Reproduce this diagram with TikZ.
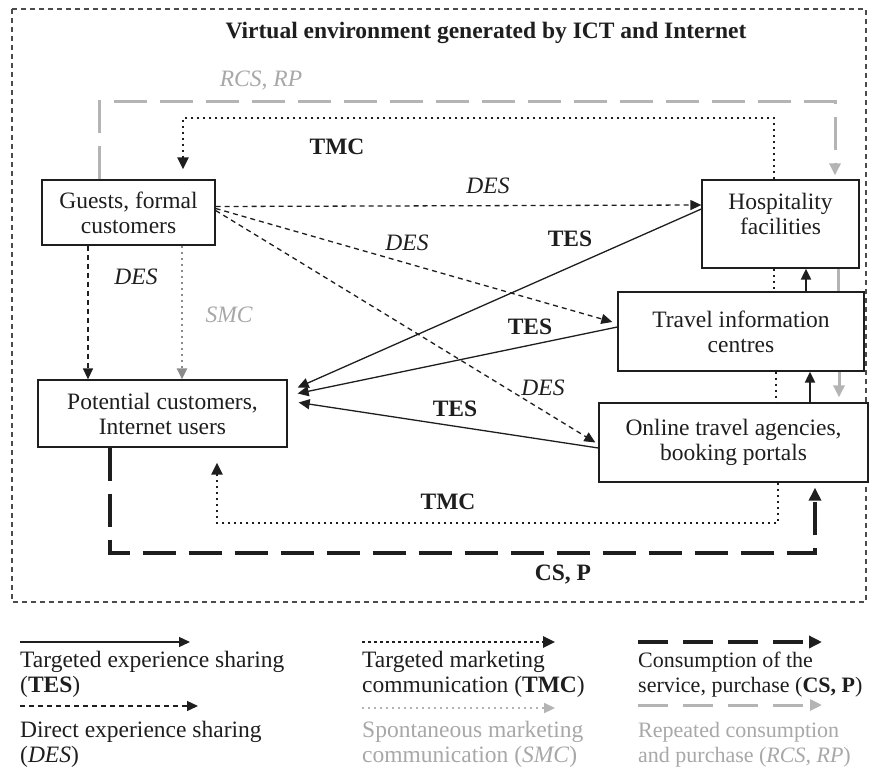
\documentclass[tikz,border=0pt]{standalone}
\usepackage{fontspec}
\setmainfont{Liberation Serif}
\usetikzlibrary{arrows.meta,calc}
\definecolor{lgray}{HTML}{B4B4B4}
\definecolor{mgray}{HTML}{8C8C8C}
\definecolor{tgray}{HTML}{A8A8A8}
\definecolor{ink}{HTML}{1E1E1E}
\begin{document}
\begin{tikzpicture}[x=1pt,y=-1pt,
  box/.style={draw=ink, line width=1.3pt, fill=white, inner sep=0pt, align=center,
    font=\fontsize{23.5}{25}\selectfont, text=ink},
  txt/.style={font=\fontsize{23.5}{25}\selectfont, text=ink, inner sep=0pt},
  legtxt/.style={font=\fontsize{23.5}{25}\selectfont, text=ink, inner sep=0pt, anchor=base west},
  tipa/.style={-{Triangle[length=11pt,width=10pt]}},
  tesline/.style={draw=ink, line width=1.3pt, tipa},
  desline/.style={draw=ink, line width=1.3pt, dash pattern=on 5pt off 4pt, tipa},
  dotsb/.style={draw=ink, line width=2.6pt, dash pattern=on 2.6pt off 3.4pt},
  tmcline/.style={dotsb, -{Triangle[length=12pt,width=11pt]}},
  smcline/.style={draw=mgray, line width=2.2pt, dash pattern=on 2.2pt off 3.8pt,
    -{Triangle[length=11pt,width=10pt,fill=mgray]}},
  csline/.style={draw=ink, line width=4pt, dash pattern=on 33pt off 13pt, -{Triangle[length=13pt,width=12pt]}},
  rcsline/.style={draw=lgray, line width=3pt, dash pattern=on 33pt off 13pt, -{Triangle[length=12pt,width=11pt]}},
  framel/.style={draw=ink!80, line width=1.2pt, dash pattern=on 5pt off 4pt}
]
\useasboundingbox (0,0) rectangle (869,767);
\fill[white] (0,0) rectangle (869,767);

% outer frame
\draw[framel] (12,9) rectangle (866,602);
\node[txt, font=\fontsize{23.5}{25}\selectfont\bfseries] (title) at (486,33) {Virtual environment generated by ICT and Internet};

% boxes
\node[box, minimum width=173pt, minimum height=65pt] (guests) at (128.5,212.5) {Guests, formal\\customers};
\node[box, minimum width=157pt, minimum height=88pt] (hosp) at (780.5,224) {};
\node[txt, align=center] (hospt) at (780.5,214) {Hospitality\\facilities};
\node[box, minimum width=246pt, minimum height=79pt] (travel) at (741,331.5) {Travel information\\centres};
\node[box, minimum width=269pt, minimum height=79pt] (online) at (733.5,442.5) {Online travel agencies,\\booking portals};
\node[box, minimum width=249pt, minimum height=67pt] (pot) at (162.5,413.5) {Potential customers,\\Internet users};

% RCS, RP (gray big dashes)
\coordinate (r0) at ([xshift=-29.5pt]guests.north);
\coordinate (rc) at (835,102);
\coordinate (r2) at (rc |- hosp.north);
\draw[rcsline] (r0) |- (rc) -- ([yshift=4pt]r2);
\coordinate (g1) at ([xshift=57.5pt]hosp.south);
\draw[draw=lgray, line width=3pt] (g1) -- (g1 |- travel.north);
\coordinate (g2) at ([xshift=98pt]travel.south);
\coordinate (g3) at (g2 |- online.north);
\draw[draw=lgray, line width=3pt, -{Triangle[length=12pt,width=11pt]}] (g2) -- ([yshift=5pt]g3);

% TMC top
\coordinate (t0) at ([xshift=-6.5pt]hosp.north);
\coordinate (tc) at (183,118);
\coordinate (t2) at (tc |- guests.north);
\draw[tmcline] (t0) |- (tc) -- ([yshift=10pt]t2);

% dotted between right boxes
\coordinate (m1) at ([xshift=-6.5pt]hosp.south);
\draw[dotsb] (m1) -- (m1 |- travel.north);
\coordinate (m2) at ([xshift=35pt]travel.south);
\draw[dotsb] (m2) -- (m2 |- online.north);

% black arrows up
\coordinate (a1) at ([xshift=65pt]travel.north);
\draw[tesline, line width=2pt] (a1) -- (a1 |- hosp.south);
\coordinate (a2) at ([xshift=76.5pt]online.north);
\draw[tesline, line width=2pt] (a2) -- (a2 |- travel.south);

% DES lines
\draw[desline] ([yshift=6pt]guests.east) -- ([yshift=19pt]hosp.west);
\draw[desline] ([yshift=4pt]guests.east) -- ([xshift=-5pt,yshift=9.5pt]travel.west);
\draw[desline] ([yshift=2pt]guests.east) -- ([xshift=-3pt]online.west);
\coordinate (d1) at ([xshift=-40.5pt]guests.south);
\draw[desline] (d1) -- (d1 |- pot.north);
\coordinate (s1) at ([xshift=53.5pt]guests.south);
\draw[smcline] (s1) -- (s1 |- pot.north);

% TES lines
\draw[tesline] ([yshift=15pt]hosp.west) -- ([xshift=10pt,yshift=26pt]pot.east);
\draw[tesline] ([yshift=4.5pt]travel.west) -- ([xshift=10pt,yshift=20pt]pot.east);
\draw[tesline] ([yshift=-5.5pt]online.west) -- ([xshift=11pt,yshift=11pt]pot.east);

% TMC bottom
\coordinate (b0) at ([xshift=44.5pt]online.south);
\coordinate (bc) at (217,523);
\coordinate (b2) at (bc |- pot.south);
\draw[tmcline] (b0) |- (bc) -- ([yshift=-15pt]b2);

% CS, P
\coordinate (c0) at ([xshift=-52.5pt]pot.south);
\coordinate (cc) at (815,553);
\coordinate (c2) at (cc |- online.south);
\draw[csline] (c0) |- (cc) -- ([yshift=-5pt]c2);

% labels
\node[txt, text=tgray, font=\fontsize{23.5}{25}\selectfont\itshape] (lrcs) at (261,81) {RCS, RP};
\node[txt, font=\fontsize{23.5}{25}\selectfont\bfseries] (ltmc1) at (337,147) {TMC};
\node[txt, font=\fontsize{23.5}{25}\selectfont\itshape] (ldes1) at (488,186) {DES};
\node[txt, font=\fontsize{23.5}{25}\selectfont\itshape] (ldes2) at (407,243) {DES};
\node[txt, font=\fontsize{23.5}{25}\selectfont\itshape] (ldes3) at (543,388) {DES};
\node[txt, font=\fontsize{23.5}{25}\selectfont\itshape] (ldes4) at (136,277) {DES};
\node[txt, text=tgray, font=\fontsize{23.5}{25}\selectfont\itshape] (lsmc) at (229,315) {SMC};
\node[txt, font=\fontsize{23.5}{25}\selectfont\bfseries] (ltes1) at (570,239) {TES};
\node[txt, font=\fontsize{23.5}{25}\selectfont\bfseries] (ltes2) at (530,327) {TES};
\node[txt, font=\fontsize{23.5}{25}\selectfont\bfseries] (ltes3) at (455,409) {TES};
\node[txt, font=\fontsize{23.5}{25}\selectfont\bfseries] (ltmc2) at (448,502) {TMC};
\node[txt, font=\fontsize{23.5}{25}\selectfont\bfseries] (lcs) at (563,575) {CS, P};

% legend
\coordinate (k1a) at (20,642); \coordinate (k1b) at (190,642);
\draw[tesline] (k1a) -- (k1b);
\node[legtxt] (k1t1) at (20,667) {Targeted experience sharing};
\node[legtxt] (k1t2) at (20,692) {(\textbf{TES})};
\coordinate (k2a) at (20,706); \coordinate (k2b) at (198,706);
\draw[desline] (k2a) -- (k2b);
\node[legtxt] (k2t1) at (20,737) {Direct experience sharing};
\node[legtxt] (k2t2) at (20,762) {(\textit{DES})};

\coordinate (k3a) at (362,642); \coordinate (k3b) at (555,642);
\draw[tmcline] (k3a) -- (k3b);
\node[legtxt] (k3t1) at (362,667) {Targeted marketing};
\node[legtxt] (k3t2) at (362,692) {communication (\textbf{TMC})};
\coordinate (k4a) at (362,708); \coordinate (k4b) at (555,708);
\draw[draw=lgray, line width=2.2pt, dash pattern=on 2.2pt off 3.8pt,
    -{Triangle[length=11pt,width=10pt,fill=lgray]}] (k4a) -- (k4b);
\node[legtxt, text=tgray] (k4t1) at (362,737) {Spontaneous marketing};
\node[legtxt, text=tgray] (k4t2) at (362,762) {communication (\textit{SMC})};

\coordinate (k5a) at (638,642); \coordinate (k5b) at (822,642);
\draw[csline, dash pattern=on 30pt off 15pt] (k5a) -- (k5b);
\node[legtxt, font=\fontsize{22}{25}\selectfont] (k5t1) at (638,667) {Consumption of the};
\node[legtxt, font=\fontsize{22}{25}\selectfont] (k5t2) at (638,692) {service, purchase (\textbf{CS, P})};
\coordinate (k6a) at (638,705); \coordinate (k6b) at (822,705);
\draw[rcsline, dash pattern=on 30pt off 15pt] (k6a) -- (k6b);
\node[legtxt, text=tgray, font=\fontsize{22}{25}\selectfont] (k6t1) at (638,737) {Repeated consumption};
\node[legtxt, text=tgray, font=\fontsize{22}{25}\selectfont] (k6t2) at (638,762) {and purchase (\textit{RCS, RP})};
\end{tikzpicture}
\end{document}
